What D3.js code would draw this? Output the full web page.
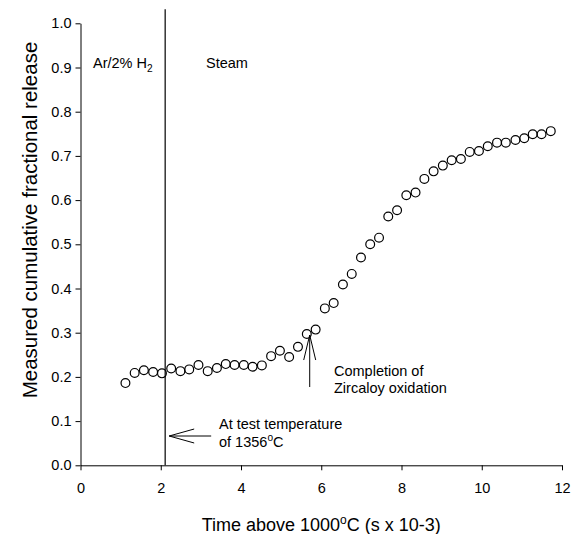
<!DOCTYPE html>
<html>
<head>
<meta charset="utf-8">
<script src="https://cdn.jsdelivr.net/npm/d3@7"></script>
<style>
  html, body { margin: 0; padding: 0; background: #fff; }
  svg { display: block; font-family: Arial, "Liberation Sans", Helvetica, sans-serif; }
</style>
</head>
<body>
<svg id="chart" width="581" height="534"></svg>
<script>
// ---- data ----
const timeKs = [1.12, 1.35, 1.58, 1.81, 2.03, 2.26, 2.49, 2.71, 2.94, 3.17, 3.40, 3.62, 3.84, 4.07, 4.29, 4.52,
  4.75, 4.97, 5.20, 5.42, 5.64, 5.86, 6.09, 6.31, 6.54, 6.76, 6.99, 7.22, 7.44, 7.67, 7.89, 8.12,
  8.35, 8.57, 8.80, 9.03, 9.25, 9.48, 9.70, 9.93, 10.15, 10.38, 10.60, 10.84, 11.06, 11.27, 11.49, 11.72];
const release = [0.186, 0.209, 0.215, 0.211, 0.208, 0.219, 0.213, 0.217, 0.227, 0.213, 0.220, 0.229, 0.227, 0.227, 0.223, 0.226,
  0.247, 0.259, 0.245, 0.268, 0.297, 0.307, 0.355, 0.367, 0.409, 0.433, 0.470, 0.500, 0.515, 0.563, 0.577, 0.611,
  0.617, 0.648, 0.665, 0.678, 0.690, 0.693, 0.709, 0.711, 0.722, 0.730, 0.730, 0.736, 0.740, 0.749, 0.749, 0.756];
const xTicks = [0, 2, 4, 6, 8, 10, 12];
const yTicks = [0.0, 0.1, 0.2, 0.3, 0.4, 0.5, 0.6, 0.7, 0.8, 0.9, 1.0];
const switchTime = 2.11;         // change of atmosphere Ar/2% H2 -> steam
const testTempTime = 2.21;       // arrow "At test temperature"
const oxidationPoint = [5.70, 0.297]; // arrow "Completion of Zircaloy oxidation"

// ---- layout ----
const svg = d3.select("#chart");
const x = d3.scaleLinear().domain([0, 12]).range([80.5, 562]);
const y = d3.scaleLinear().domain([0, 1]).range([465.3, 23.3]);
const FS = 14.5;

// axes
const gx = svg.append("g").attr("transform", `translate(0,${y(0)})`)
  .call(d3.axisBottom(x).tickValues(xTicks).tickFormat(d3.format("d")).tickSize(5).tickSizeOuter(0).tickPadding(12));
const gy = svg.append("g").attr("transform", `translate(${x(0)},0)`)
  .call(d3.axisLeft(y).tickValues(yTicks).tickFormat(d3.format(".1f")).tickSize(5).tickSizeOuter(0).tickPadding(4));
[gx, gy].forEach(g => {
  g.selectAll("path, line").attr("stroke", "#000").attr("stroke-width", 1);
  g.selectAll("text").attr("fill", "#000").attr("font-size", FS).attr("font-family", null);
});

// vertical atmosphere divider
svg.append("line")
  .attr("x1", x(switchTime)).attr("x2", x(switchTime))
  .attr("y1", y(0)).attr("y2", y(1.032))
  .attr("stroke", "#000").attr("stroke-width", 1.2);

// region labels
const ar = svg.append("text").attr("x", 93).attr("y", 68).attr("font-size", FS);
ar.append("tspan").text("Ar/2% H");
ar.append("tspan").attr("font-size", FS * 0.7).attr("dy", 4).text("2");
svg.append("text").attr("x", 206).attr("y", 68).attr("font-size", FS).text("Steam");

// data points
svg.append("g").selectAll("circle")
  .data(timeKs.map((t, i) => [t, release[i]]))
  .join("circle")
  .attr("cx", d => x(d[0])).attr("cy", d => y(d[1]))
  .attr("r", 4.4)
  .attr("fill", "none").attr("stroke", "#000").attr("stroke-width", 1.2);

// arrow helper (open arrow head)
function arrow(x1, y1, x2, y2, headLen, headHalf) {
  svg.append("line").attr("x1", x1).attr("y1", y1).attr("x2", x2).attr("y2", y2)
    .attr("stroke", "#000").attr("stroke-width", 1);
  const dx = x2 - x1, dy = y2 - y1, L = Math.hypot(dx, dy);
  const ux = dx / L, uy = dy / L;
  const bx = x2 - ux * headLen, by = y2 - uy * headLen;
  svg.append("path")
    .attr("d", `M${bx - uy * headHalf},${by + ux * headHalf}L${x2},${y2}L${bx + uy * headHalf},${by - ux * headHalf}`)
    .attr("fill", "none").attr("stroke", "#000").attr("stroke-width", 1);
}

// "At test temperature" arrow
const ay = 436;
arrow(x(testTempTime) + 42, ay, x(testTempTime), ay, 25, 7);
const t1 = svg.append("text").attr("x", 219).attr("y", 429).attr("font-size", FS);
t1.text("At test temperature");
const t2 = svg.append("text").attr("x", 219).attr("y", 446.5).attr("font-size", FS);
t2.append("tspan").text("of 1356");
t2.append("tspan").attr("font-size", FS * 0.7).attr("dy", -6).text("o");
t2.append("tspan").attr("dy", 6).text("C");

// "Completion of Zircaloy oxidation" arrow
const ox = x(oxidationPoint[0]) + 0.5;
arrow(ox, 387, ox, y(oxidationPoint[1]) + 1, 25, 6);
svg.append("text").attr("x", 334).attr("y", 376).attr("font-size", FS).text("Completion of");
svg.append("text").attr("x", 334).attr("y", 393).attr("font-size", FS).text("Zircaloy oxidation");

// axis titles
const xt = svg.append("text").attr("x", (x(0) + x(12)) / 2).attr("y", 530.5)
  .attr("text-anchor", "middle").attr("font-size", 18);
xt.append("tspan").text("Time above 1000");
xt.append("tspan").attr("font-size", 12).attr("dy", -7).text("o");
xt.append("tspan").attr("dy", 7).text("C (s x 10-3)");

svg.append("text")
  .attr("transform", `translate(37,220) rotate(-90)`)
  .attr("text-anchor", "middle").attr("font-size", 20.5)
  .text("Measured cumulative fractional release");
</script>
</body>
</html>
